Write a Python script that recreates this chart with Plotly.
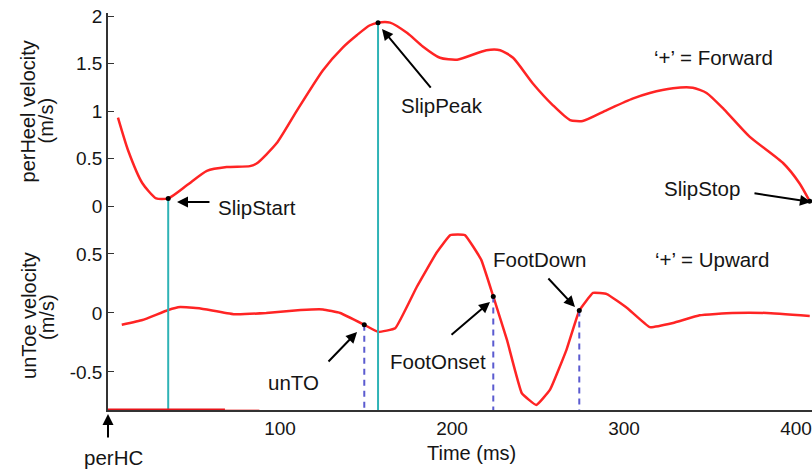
import plotly.graph_objects as go

# ---- data -------------------------------------------------------------
# perturbed-heel (slipping foot) forward velocity, m/s
heel_t = [5.8, 11.6, 20, 28, 35, 46, 57.5, 69, 82.5, 86.6, 98, 110, 125, 136.6,
          144.8, 152, 157, 164, 174, 183, 193, 203, 220, 228, 235.5, 247, 258.7,
          268.6, 276, 290, 305, 315, 328.5, 340, 348, 358, 373, 392.6, 402, 408]
heel_v = [0.93, 0.59, 0.24, 0.08, 0.08, 0.22, 0.37, 0.41, 0.42, 0.45, 0.66, 1.01,
          1.43, 1.67, 1.80, 1.90, 1.93, 1.93, 1.82, 1.68, 1.56, 1.54, 1.64, 1.64,
          1.56, 1.29, 1.06, 0.905, 0.895, 1.01, 1.13, 1.19, 1.24, 1.245, 1.19, 1.02,
          0.73, 0.45, 0.24, 0.05]

# unperturbed-toe vertical velocity, m/s
toe_t = [8, 20, 35, 42, 53, 73, 92, 112, 125, 135, 149, 157, 167, 179.5, 191, 199,
         207.5, 217, 224, 232, 240.6, 249, 257, 266.6, 274, 282, 290, 302, 315,
         328.5, 344, 363, 383, 408]
toe_v = [-0.10, -0.06, 0.025, 0.05, 0.04, -0.01, 0.0, 0.025, 0.03, 0.0, -0.10,
         -0.16, -0.13, 0.22, 0.51, 0.66, 0.66, 0.45, 0.14, -0.23, -0.68, -0.78,
         -0.65, -0.31, 0.02, 0.17, 0.16, 0.04, -0.12, -0.085, -0.02, 0.0, 0.0, -0.025]

# slip events (heel): SlipStart, SlipPeak, SlipStop
slip_t = [35, 157, 408]
slip_v = [0.08, 1.93, 0.05]
# toe events: unTO, FootOnset, FootDown
toe_evt_t = [149, 224, 274]
toe_evt_v = [-0.10, 0.14, 0.02]

# red band along the time axis at the start of the trial
band_t = [0, 68]
band_fade_t = [68, 88]

x_ticks = [100, 200, 300, 400]
heel_ticks = [0, 0.5, 1, 1.5, 2]
heel_tick_text = ["0", "0.5", "1", "1.5", "2"]
toe_ticks = [-0.5, 0, 0.5]
toe_tick_text = ["-0.5", "0", "0.5"]

# ---- styling ------------------------------------------------------------
RED = "#ff2424"
TEAL = "#2fb3b6"
BLUE = "#5b5bd0"
INK = "#151515"
FONT = "Liberation Sans, Arial, Helvetica, sans-serif"
FS_TICK = 19
FS_TITLE = 20
FS_NOTE = 20.5

X_RANGE = [0, 409.3]
HEEL_RANGE = [-0.2526, 2.0316]
TOE_RANGE = [-0.822, 0.703]
SPLIT = 0.4534  # boundary between the two stacked panels (paper units)

fig = go.Figure()

# heel velocity (top panel)
fig.add_trace(go.Scatter(x=heel_t, y=heel_v, mode="lines", xaxis="x2", yaxis="y2",
                         line=dict(color=RED, width=2.5, shape="spline", smoothing=0.6),
                         hoverinfo="skip"))
# toe velocity (bottom panel)
fig.add_trace(go.Scatter(x=toe_t, y=toe_v, mode="lines", xaxis="x", yaxis="y",
                         line=dict(color=RED, width=2.5, shape="spline", smoothing=0.3),
                         hoverinfo="skip"))

# teal markers for SlipStart and SlipPeak, running through both panels
for t, v in zip(slip_t[:2], slip_v[:2]):
    fig.add_trace(go.Scatter(x=[t, t], y=[v, HEEL_RANGE[0]], mode="lines",
                             xaxis="x2", yaxis="y2", line=dict(color=TEAL, width=2),
                             hoverinfo="skip", cliponaxis=False))
    fig.add_trace(go.Scatter(x=[t, t], y=[TOE_RANGE[1], TOE_RANGE[0]], mode="lines",
                             xaxis="x", yaxis="y", line=dict(color=TEAL, width=2),
                             hoverinfo="skip", cliponaxis=False))

# dashed drops for toe events
for t, v in zip(toe_evt_t, toe_evt_v):
    fig.add_trace(go.Scatter(x=[t, t], y=[v, TOE_RANGE[0]], mode="lines",
                             xaxis="x", yaxis="y",
                             line=dict(color=BLUE, width=2, dash="6px,5px"),
                             hoverinfo="skip"))

# red band on the time axis
fig.add_trace(go.Scatter(x=band_t, y=[TOE_RANGE[0]] * 2, mode="lines", xaxis="x", yaxis="y",
                         line=dict(color="#e8141a", width=3), hoverinfo="skip",
                         cliponaxis=False))
fig.add_trace(go.Scatter(x=band_fade_t, y=[TOE_RANGE[0]] * 2, mode="lines", xaxis="x",
                         yaxis="y", line=dict(color="rgba(240,120,120,0.6)", width=2),
                         hoverinfo="skip", cliponaxis=False))

# event dots
fig.add_trace(go.Scatter(x=slip_t, y=slip_v, mode="markers", xaxis="x2", yaxis="y2",
                         marker=dict(color="black", size=5), hoverinfo="skip",
                         cliponaxis=False))
fig.add_trace(go.Scatter(x=toe_evt_t, y=toe_evt_v, mode="markers", xaxis="x", yaxis="y",
                         marker=dict(color="black", size=5), hoverinfo="skip"))

annotations = []


def arrow(x, y, ax, ay, xref="x", yref="y"):
    annotations.append(dict(x=x, y=y, xref=xref, yref=yref, ax=ax, ay=ay, text="",
                            showarrow=True, arrowhead=2, arrowsize=1.1, arrowwidth=2,
                            arrowcolor="black", standoff=0, startstandoff=0))


def label(x, y, text, yref, xref="x", size=FS_NOTE):
    annotations.append(dict(x=x, y=y, xref=xref, yref=yref, text=text, showarrow=False,
                            font=dict(family=FONT, size=size, color=INK),
                            xanchor="center", yanchor="middle"))


# arrows: head position in data units, tail offset in pixels
arrow(40.1, 0.042, 34, 0, yref="y2")        # SlipStart
arrow(159.3, 1.863, 50, 60, yref="y2")      # SlipPeak
arrow(408.7, 0.042, -58, -9, yref="y2")     # SlipStop
arrow(144.8, -0.161, -30, 31)               # unTO
arrow(222.1, 0.093, -40, 34)                # FootOnset
arrow(271.5, 0.051, -28, -30)               # FootDown
arrow(0, -0.0101, 0, 25, xref="paper", yref="paper")  # perHC

label(86.5, -0.011, "SlipStart", "y2")
label(194.2, 1.063, "SlipPeak", "y2")
label(352.3, 1.558, "‘+’ = Forward", "y2")
label(345.3, 0.189, "SlipStop", "y2")
label(351.2, 0.449, "‘+’ = Upward", "y")
label(250.6, 0.449, "FootDown", "y")
label(191.9, -0.415, "FootOnset", "y")
label(108.1, -0.593, "unTO", "y")
label(0.0085, -0.1209, "perHC", "paper", xref="paper")
label(0.517, -0.1083, "Time (ms)", "paper", xref="paper", size=FS_TITLE)

# stacked y-axis titles
for x_px, y_paper, text in [(28, 0.7519, "perHeel velocity"), (46, 0.7293, "(m/s)"),
                            (29, 0.2368, "unToe velocity"), (47, 0.2343, "(m/s)")]:
    annotations.append(dict(x=(x_px - 108) / 704, y=y_paper, xref="paper", yref="paper",
                            text=text, textangle=-90, showarrow=False,
                            font=dict(family=FONT, size=FS_TITLE, color=INK),
                            xanchor="center", yanchor="middle"))

axis_font = dict(family=FONT, size=FS_TICK, color=INK)

fig.update_layout(
    width=812, height=470,
    margin=dict(l=108, r=0, t=13, b=60),
    paper_bgcolor="white", plot_bgcolor="white",
    showlegend=False,
    xaxis=dict(domain=[0, 1], range=X_RANGE, anchor="y", showgrid=False, zeroline=False,
               showline=True, linecolor="#333", linewidth=1.5, ticks="",
               tickvals=x_ticks, ticktext=[str(v) for v in x_ticks], tickfont=axis_font),
    xaxis2=dict(domain=[0, 1], range=X_RANGE, anchor="y2", matches="x", visible=False),
    yaxis=dict(domain=[0, SPLIT], range=TOE_RANGE, anchor="x", showgrid=False,
               zeroline=False, showline=True, linecolor="#333", linewidth=1.5,
               ticks="inside", ticklen=6, tickcolor="#333", tickvals=toe_ticks,
               ticktext=toe_tick_text, tickfont=axis_font),
    yaxis2=dict(domain=[SPLIT, 1], range=HEEL_RANGE, anchor="x2", showgrid=False,
                zeroline=False, showline=True, linecolor="#333", linewidth=1.5,
                ticks="inside", ticklen=6, tickcolor="#333", tickvals=heel_ticks,
                ticktext=heel_tick_text, tickfont=axis_font),
    annotations=annotations,
)

fig.write_html("out.html")
